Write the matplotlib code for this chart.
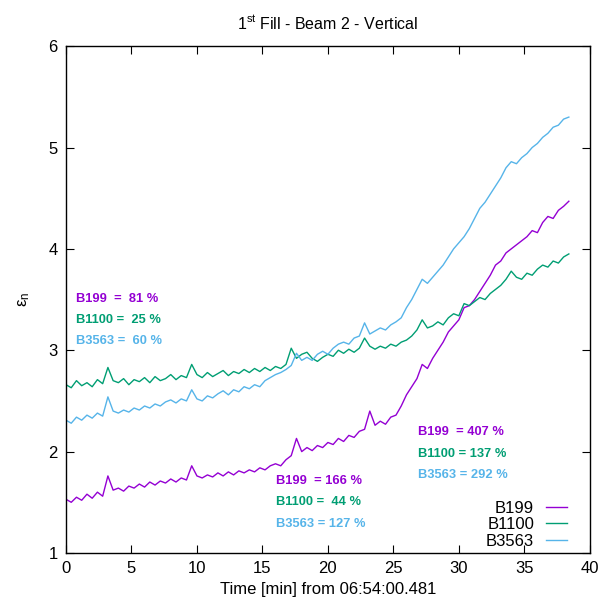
import numpy as np
import matplotlib
matplotlib.use("Agg")
import matplotlib.pyplot as plt

plt.rcParams['font.family'] = ['Liberation Sans', 'DejaVu Sans']

# time axis, one sample every 0.4 min
time_min = np.arange(97) * 0.4

b199 = [1.53, 1.50, 1.55, 1.52, 1.58, 1.54, 1.60, 1.56, 1.76, 1.62,
        1.64, 1.61, 1.66, 1.64, 1.68, 1.65, 1.70, 1.67, 1.71, 1.69,
        1.73, 1.70, 1.74, 1.72, 1.86, 1.76, 1.74, 1.77, 1.75, 1.79,
        1.76, 1.80, 1.77, 1.81, 1.79, 1.82, 1.80, 1.84, 1.82, 1.86,
        1.88, 1.86, 1.92, 1.96, 2.13, 2.00, 2.04, 2.01, 2.06, 2.04,
        2.09, 2.07, 2.13, 2.10, 2.16, 2.14, 2.20, 2.22, 2.40, 2.26,
        2.30, 2.27, 2.34, 2.36, 2.45, 2.56, 2.64, 2.72, 2.86, 2.82,
        2.92, 3.00, 3.08, 3.18, 3.24, 3.30, 3.42, 3.44, 3.50, 3.58,
        3.66, 3.74, 3.84, 3.88, 3.96, 4.00, 4.04, 4.08, 4.12, 4.18,
        4.16, 4.26, 4.32, 4.30, 4.38, 4.42, 4.47]

b1100 = [2.66, 2.63, 2.70, 2.65, 2.68, 2.64, 2.71, 2.67, 2.83, 2.70,
         2.68, 2.72, 2.66, 2.71, 2.69, 2.73, 2.68, 2.74, 2.70, 2.72,
         2.76, 2.71, 2.75, 2.73, 2.86, 2.76, 2.73, 2.78, 2.74, 2.77,
         2.80, 2.75, 2.79, 2.77, 2.81, 2.78, 2.82, 2.79, 2.83, 2.80,
         2.84, 2.82, 2.86, 3.02, 2.92, 2.96, 2.98, 2.92, 2.89, 2.93,
         2.96, 2.94, 3.00, 2.97, 3.01, 2.98, 3.02, 3.12, 3.04, 3.01,
         3.04, 3.02, 3.06, 3.04, 3.08, 3.10, 3.14, 3.20, 3.30, 3.22,
         3.24, 3.28, 3.25, 3.32, 3.36, 3.34, 3.46, 3.44, 3.48, 3.52,
         3.50, 3.56, 3.60, 3.64, 3.70, 3.78, 3.72, 3.70, 3.76, 3.74,
         3.80, 3.84, 3.82, 3.88, 3.86, 3.92, 3.95]

b3563 = [2.31, 2.28, 2.34, 2.31, 2.36, 2.33, 2.38, 2.35, 2.54, 2.40,
         2.38, 2.41, 2.39, 2.43, 2.41, 2.45, 2.43, 2.47, 2.45, 2.49,
         2.51, 2.48, 2.52, 2.50, 2.61, 2.52, 2.50, 2.55, 2.53, 2.57,
         2.60, 2.56, 2.61, 2.59, 2.64, 2.62, 2.66, 2.64, 2.70, 2.73,
         2.76, 2.78, 2.81, 2.85, 2.97, 2.90, 2.93, 2.90, 2.96, 2.99,
         2.96, 3.02, 3.06, 3.08, 3.06, 3.12, 3.14, 3.27, 3.16, 3.19,
         3.22, 3.20, 3.25, 3.28, 3.32, 3.42, 3.50, 3.60, 3.70, 3.66,
         3.72, 3.78, 3.84, 3.92, 4.00, 4.06, 4.12, 4.20, 4.30, 4.40,
         4.46, 4.54, 4.62, 4.70, 4.80, 4.86, 4.84, 4.90, 4.94, 5.00,
         5.04, 5.10, 5.14, 5.20, 5.22, 5.28, 5.30]

names = ["B199", "B1100", "B3563"]
colors = ["#9400d3", "#009e73", "#56b4e9"]

# growth annotations: (x, y of first line, texts)
notes = [
    (0.8, 3.51, ["B199  =  81 %", "B1100 =  25 %", "B3563 =  60 %"]),
    (16.0, 1.71, ["B199  = 166 %", "B1100 =  44 %", "B3563 = 127 %"]),
    (26.9, 2.19, ["B199  = 407 %", "B1100 = 137 %", "B3563 = 292 %"]),
]

fig = plt.figure(figsize=(6.0, 6.07), dpi=100)
ax = fig.add_axes([0.11, 0.089, 0.873, 0.835])

for vals, name, c in zip([b199, b1100, b3563], names, colors):
    ax.plot(time_min, vals, color=c, lw=1.0, label=name)

for x, y, texts in notes:
    for k, (txt, c) in enumerate(zip(texts, colors)):
        ax.text(x, y - k * 0.21, txt, color=c, fontsize=9.3,
                fontweight='bold', va='center')

ax.set_xlim(0, 40)
ax.set_ylim(1, 6)
ax.set_xticks(range(0, 41, 5))
ax.set_yticks(range(1, 7))
ax.tick_params(direction='in', top=True, right=True, length=6,
               labelsize=12, pad=6)
for s in ax.spines.values():
    s.set_linewidth(1.0)

ax.set_title("1$^{\\mathregular{st}}$ Fill - Beam 2 - Vertical", fontsize=11.5, pad=12)
ax.set_xlabel("Time [min] from 06:54:00.481", fontsize=12, labelpad=4)
ax.set_ylabel("$\\mathregular{\\epsilon_n}$", fontsize=12, labelpad=12)

leg = ax.legend(loc='lower right', bbox_to_anchor=(0.97, -0.005),
                frameon=False, markerfirst=False, fontsize=12,
                handlelength=1.3, labelspacing=0.1, borderaxespad=0,
                handletextpad=0.7)

fig.savefig("out.png", dpi=100)
